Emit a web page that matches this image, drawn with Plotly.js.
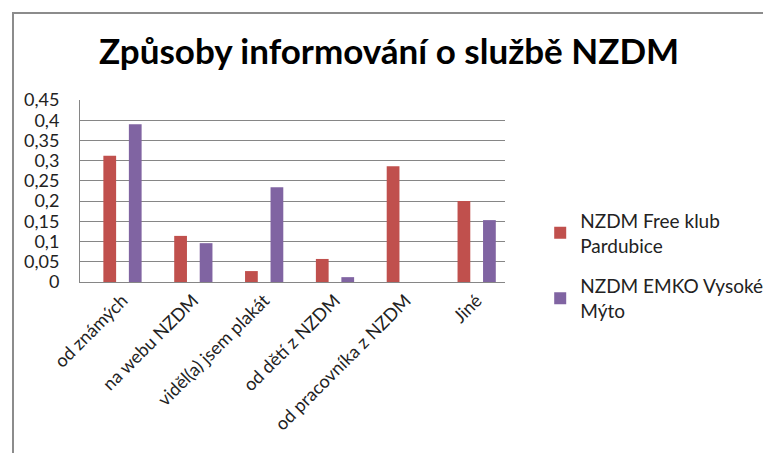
<!DOCTYPE html>
<html>
<head>
<meta charset="utf-8">
<script src="https://cdn.plot.ly/plotly-3.0.1.min.js"></script>
<style>
html,body{margin:0;padding:0;background:#fff;}
#wrap{position:relative;width:763px;height:453px;overflow:hidden;}
#chart{position:absolute;left:0;top:0;width:763px;height:453px;}
#frame{position:absolute;left:12px;top:12px;width:800px;height:500px;border-left:2px solid #8c8c8c;border-top:2px solid #8c8c8c;pointer-events:none;}
</style>
</head>
<body>
<div id="wrap">
<div id="chart"></div>
<div id="frame"></div>
</div>
<script>
const categories = ["od známých", "na webu NZDM", "viděl(a) jsem plakát", "od dětí z NZDM", "od pracovníka z NZDM", "Jiné"];
const seriesNames = ["NZDM Free klub<br>Pardubice", "NZDM EMKO Vysoké<br>Mýto"];
const freeKlub = [0.312, 0.114, 0.027, 0.057, 0.286, 0.2];
const emko = [0.39, 0.096, 0.234, 0.012, 0, 0.153];
const yTicks = [0, 0.05, 0.1, 0.15, 0.2, 0.25, 0.3, 0.35, 0.4, 0.45];

const FONT = "Lato, 'Open Sans', sans-serif";
const traces = [
  {type: "bar", name: seriesNames[0], legendgroup: "a", x: categories, y: freeKlub, marker: {color: "#C0504D"}},
  {type: "bar", name: seriesNames[1], legendgroup: "b", x: categories, y: emko, marker: {color: "#8064A2"}}
];
const layout = {
  width: 763, height: 453,
  margin: {l: 80, r: 258, t: 100, b: 171},
  paper_bgcolor: "#fff", plot_bgcolor: "#fff",
  separators: ", ",
  font: {family: FONT, size: 18, color: "#222"},
  title: {text: "<b>Způsoby informování o službě NZDM</b>", x: 0.51, xanchor: "center", y: 0.885, yanchor: "middle",
          font: {family: FONT, size: 35, color: "#000"}},
  barmode: "group", bargap: 0.28, bargroupgap: 0.5,
  xaxis: {type: "category", range: [-0.6, 5.4], tickangle: -45, showgrid: false, showline: true, linecolor: "#868686", linewidth: 1,
          ticks: "", tickfont: {family: FONT, size: 18, color: "#222"}, fixedrange: true, automargin: false},
  yaxis: {range: [0, 0.45], tickvals: yTicks, ticktext: yTicks.map(v => String(v).replace(".", ",")), showgrid: true, gridcolor: "#868686", gridwidth: 1,
          showline: true, linecolor: "#868686", linewidth: 1, ticks: "", ticklabelstandoff: 16, zeroline: false,
          tickfont: {family: FONT, size: 18, color: "#222"}, fixedrange: true, automargin: false},
  legend: {xref: "container", yref: "container", x: 0.708, xanchor: "left", y: 0.555, yanchor: "top", font: {family: FONT, size: 19, color: "#222"},
           traceorder: "grouped", itemwidth: 30, tracegroupgap: 13, bgcolor: "rgba(0,0,0,0)"},
  showlegend: true
};
Plotly.newPlot("chart", traces, layout, {staticPlot: true, displayModeBar: false});
</script>
</body>
</html>
